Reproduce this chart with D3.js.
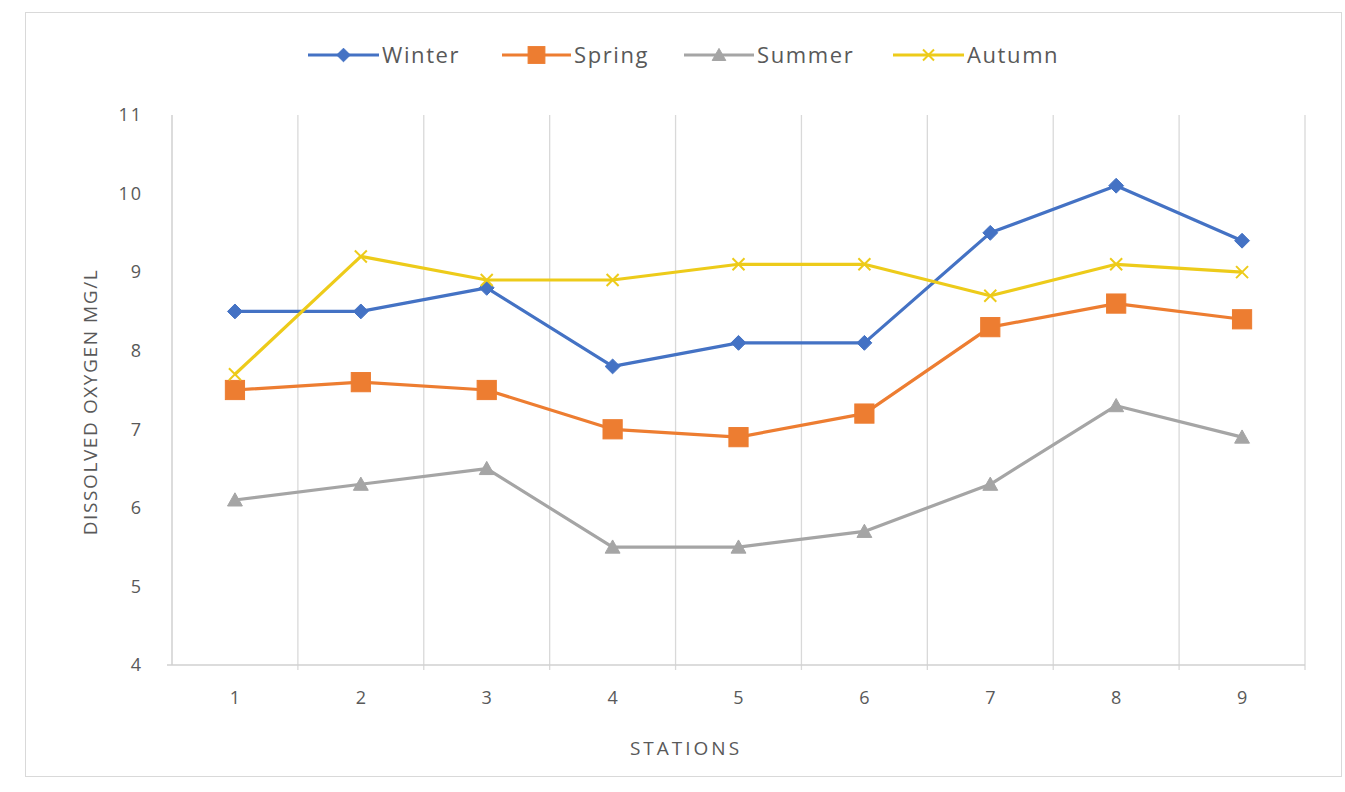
<!DOCTYPE html>
<html>
<head>
<meta charset="utf-8">
<script src="https://cdn.jsdelivr.net/npm/d3@7"></script>
<style>
  html, body { margin: 0; padding: 0; background: #fff; }
  svg { display: block; }
  text { font-family: "Open Sans", "Liberation Sans", sans-serif; fill: #595959; }
</style>
</head>
<body>
<svg id="chart" width="1345" height="792"></svg>
<script>
const stations = ["1", "2", "3", "4", "5", "6", "7", "8", "9"];
const winter = [8.5, 8.5, 8.8, 7.8, 8.1, 8.1, 9.5, 10.1, 9.4];
const spring = [7.5, 7.6, 7.5, 7.0, 6.9, 7.2, 8.3, 8.6, 8.4];
const summer = [6.1, 6.3, 6.5, 5.5, 5.5, 5.7, 6.3, 7.3, 6.9];
const autumn = [7.7, 9.2, 8.9, 8.9, 9.1, 9.1, 8.7, 9.1, 9.0];
const yTicks = [4, 5, 6, 7, 8, 9, 10, 11];
const seriesNames = ["Winter", "Spring", "Summer", "Autumn"];

const series = [
  { name: seriesNames[0], values: winter, color: "#4472C4", marker: "diamond" },
  { name: seriesNames[1], values: spring, color: "#ED7D31", marker: "square" },
  { name: seriesNames[2], values: summer, color: "#A5A5A5", marker: "triangle" },
  { name: seriesNames[3], values: autumn, color: "#EDCB1A", marker: "x" }
];

const svg = d3.select("#chart");
const plot = { left: 172, right: 1305, top: 115, bottom: 665 };

// outer border
svg.append("rect").attr("x", 25.5).attr("y", 12.5).attr("width", 1316).attr("height", 764)
  .attr("fill", "#fff").attr("stroke", "#d9d9d9").attr("stroke-width", 1);

const x = d3.scaleBand().domain(stations).range([plot.left, plot.right]).padding(0);
const y = d3.scaleLinear().domain([4, 11]).range([plot.bottom, plot.top]);

// vertical gridlines at category boundaries
const bounds = stations.map(s => x(s)).concat([x(stations[stations.length - 1]) + x.bandwidth()]);
svg.append("g").selectAll("line").data(bounds.slice(1)).join("line")
  .attr("x1", d => d).attr("x2", d => d)
  .attr("y1", plot.top).attr("y2", plot.bottom + 5)
  .attr("stroke", "#d9d9d9").attr("stroke-width", 1.3);

// axes lines
svg.append("line").attr("x1", plot.left).attr("x2", plot.left)
  .attr("y1", plot.top).attr("y2", plot.bottom)
  .attr("stroke", "#d0d0d0").attr("stroke-width", 1.5);
svg.append("line").attr("x1", plot.left - 5).attr("x2", plot.right)
  .attr("y1", plot.bottom).attr("y2", plot.bottom)
  .attr("stroke", "#d0d0d0").attr("stroke-width", 1.5);

// y tick labels via axis
const yAxis = d3.axisLeft(y).tickValues(yTicks).tickFormat(d3.format("d")).tickSize(0).tickPadding(29);
const gy = svg.append("g").attr("transform", `translate(${plot.left},0)`).call(yAxis);
gy.select(".domain").remove();
gy.selectAll("text").style("font-size", "18px").style("letter-spacing", "2px").attr("fill", "#595959");

// x tick labels via axis
const xAxis = d3.axisBottom(x).tickSize(0).tickPadding(26);
const gx = svg.append("g").attr("transform", `translate(0,${plot.bottom})`).call(xAxis);
gx.select(".domain").remove();
gx.selectAll("text").style("font-size", "18px").attr("fill", "#595959");

// axis titles
svg.append("text").attr("transform", `translate(97,${(plot.top + plot.bottom) / 2 + 12}) rotate(-90)`)
  .attr("text-anchor", "middle").style("font-size", "19px").style("letter-spacing", "1.6px")
  .text("DISSOLVED OXYGEN MG/L");
svg.append("text").attr("x", 686).attr("y", 755)
  .attr("text-anchor", "middle").style("font-size", "19px").style("letter-spacing", "3px").text("STATIONS");

// markers
function drawMarker(g, type, color, cx, cy, s) {
  if (type === "diamond") {
    g.append("path").attr("d", `M${cx},${cy - s * 0.62}L${cx + s * 0.62},${cy}L${cx},${cy + s * 0.62}L${cx - s * 0.62},${cy}Z`)
      .attr("fill", color).attr("stroke", color).attr("stroke-width", 1);
  } else if (type === "square") {
    g.append("rect").attr("x", cx - s * 0.6).attr("y", cy - s * 0.6).attr("width", s * 1.2).attr("height", s * 1.2)
      .attr("fill", color).attr("stroke", color).attr("stroke-width", 1);
  } else if (type === "triangle") {
    g.append("path").attr("d", `M${cx},${cy - s * 0.6}L${cx + s * 0.62},${cy + s * 0.5}L${cx - s * 0.62},${cy + s * 0.5}Z`)
      .attr("fill", color).attr("stroke", color).attr("stroke-width", 1);
  } else if (type === "x") {
    const r = s * 0.5;
    g.append("path").attr("d", `M${cx - r},${cy - r}L${cx + r},${cy + r}M${cx - r},${cy + r}L${cx + r},${cy - r}`)
      .attr("stroke", color).attr("stroke-width", 2);
  }
}

const line = d3.line().x((d, i) => x(stations[i]) + x.bandwidth() / 2).y(d => y(d));

series.forEach(s => {
  const g = svg.append("g");
  g.append("path").datum(s.values).attr("d", line)
    .attr("fill", "none").attr("stroke", s.color).attr("stroke-width", 3.2)
    .attr("stroke-linejoin", "round");
  s.values.forEach((v, i) => {
    drawMarker(g, s.marker, s.color, x(stations[i]) + x.bandwidth() / 2, y(v), s.marker === "square" ? 16 : 12);
  });
});

// legend
const legendItems = [
  { x0: 308, x1: 379, tx: 382 },
  { x0: 502, x1: 571, tx: 574 },
  { x0: 684, x1: 754, tx: 757 },
  { x0: 893, x1: 964, tx: 967 }
];
const lg = svg.append("g");
series.forEach((s, i) => {
  const it = legendItems[i];
  const ly = 55;
  lg.append("line").attr("x1", it.x0).attr("x2", it.x1).attr("y1", ly).attr("y2", ly)
    .attr("stroke", s.color).attr("stroke-width", 3.2);
  drawMarker(lg, s.marker, s.color, (it.x0 + it.x1) / 2, ly, s.marker === "square" ? 14 : 11);
  lg.append("text").attr("x", it.tx).attr("y", ly + 8).style("font-size", "22px")
    .style("letter-spacing", "1.6px").text(s.name);
});
</script>
</body>
</html>
